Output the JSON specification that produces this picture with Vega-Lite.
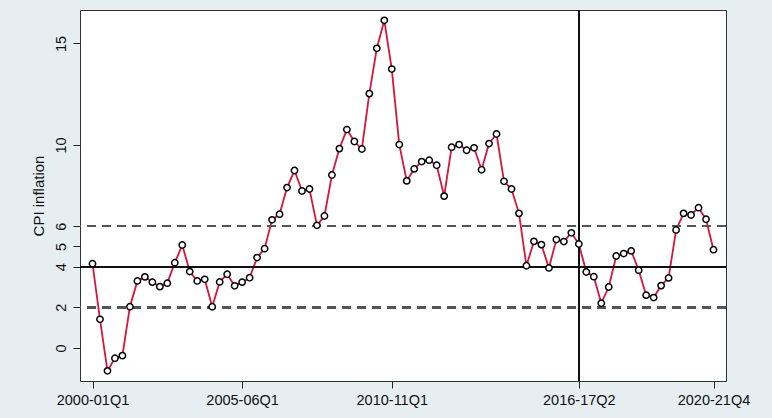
{
  "$schema": "https://vega.github.io/schema/vega-lite/v6.json",
  "width": 646,
  "height": 371,
  "autosize": {"type": "none"},
  "padding": {"left": 80, "top": 10, "right": 46, "bottom": 37},
  "background": "#e7eef1",
  "config": {
    "view": {"fill": "white", "stroke": "#333333", "strokeWidth": 1},
    "axis": {
      "labelFont": "Liberation Sans",
      "labelFontSize": 14.5,
      "labelColor": "#111111",
      "titleFont": "Liberation Sans",
      "titleFontSize": 15,
      "titleFontWeight": "normal",
      "titleColor": "#111111",
      "tickColor": "#222222",
      "domainColor": "#222222",
      "tickSize": 7,
      "grid": false
    }
  },
  "data": {
    "values": [
      {"quarter": "2000-01Q1", "cpi": 4.15},
      {"quarter": "2000-01Q2", "cpi": 1.41},
      {"quarter": "2000-01Q3", "cpi": -1.13},
      {"quarter": "2000-01Q4", "cpi": -0.51},
      {"quarter": "2001-02Q1", "cpi": -0.38},
      {"quarter": "2001-02Q2", "cpi": 2.03},
      {"quarter": "2001-02Q3", "cpi": 3.30},
      {"quarter": "2001-02Q4", "cpi": 3.50},
      {"quarter": "2002-03Q1", "cpi": 3.24},
      {"quarter": "2002-03Q2", "cpi": 3.02},
      {"quarter": "2002-03Q3", "cpi": 3.19},
      {"quarter": "2002-03Q4", "cpi": 4.20},
      {"quarter": "2003-04Q1", "cpi": 5.07},
      {"quarter": "2003-04Q2", "cpi": 3.76},
      {"quarter": "2003-04Q3", "cpi": 3.30},
      {"quarter": "2003-04Q4", "cpi": 3.38},
      {"quarter": "2004-05Q1", "cpi": 2.03},
      {"quarter": "2004-05Q2", "cpi": 3.25},
      {"quarter": "2004-05Q3", "cpi": 3.63},
      {"quarter": "2004-05Q4", "cpi": 3.06},
      {"quarter": "2005-06Q1", "cpi": 3.24},
      {"quarter": "2005-06Q2", "cpi": 3.46},
      {"quarter": "2005-06Q3", "cpi": 4.45},
      {"quarter": "2005-06Q4", "cpi": 4.89},
      {"quarter": "2006-07Q1", "cpi": 6.31},
      {"quarter": "2006-07Q2", "cpi": 6.59},
      {"quarter": "2006-07Q3", "cpi": 7.90},
      {"quarter": "2006-07Q4", "cpi": 8.74},
      {"quarter": "2007-08Q1", "cpi": 7.73},
      {"quarter": "2007-08Q2", "cpi": 7.83},
      {"quarter": "2007-08Q3", "cpi": 6.04},
      {"quarter": "2007-08Q4", "cpi": 6.50},
      {"quarter": "2008-09Q1", "cpi": 8.52},
      {"quarter": "2008-09Q2", "cpi": 9.82},
      {"quarter": "2008-09Q3", "cpi": 10.76},
      {"quarter": "2008-09Q4", "cpi": 10.17},
      {"quarter": "2009-10Q1", "cpi": 9.80},
      {"quarter": "2009-10Q2", "cpi": 12.53},
      {"quarter": "2009-10Q3", "cpi": 14.76},
      {"quarter": "2009-10Q4", "cpi": 16.14},
      {"quarter": "2010-11Q1", "cpi": 13.74},
      {"quarter": "2010-11Q2", "cpi": 10.02},
      {"quarter": "2010-11Q3", "cpi": 8.23},
      {"quarter": "2010-11Q4", "cpi": 8.82},
      {"quarter": "2011-12Q1", "cpi": 9.18},
      {"quarter": "2011-12Q2", "cpi": 9.25},
      {"quarter": "2011-12Q3", "cpi": 9.00},
      {"quarter": "2011-12Q4", "cpi": 7.48},
      {"quarter": "2012-13Q1", "cpi": 9.89},
      {"quarter": "2012-13Q2", "cpi": 10.02},
      {"quarter": "2012-13Q3", "cpi": 9.74},
      {"quarter": "2012-13Q4", "cpi": 9.86},
      {"quarter": "2013-14Q1", "cpi": 8.78},
      {"quarter": "2013-14Q2", "cpi": 10.07},
      {"quarter": "2013-14Q3", "cpi": 10.54},
      {"quarter": "2013-14Q4", "cpi": 8.21},
      {"quarter": "2014-15Q1", "cpi": 7.83},
      {"quarter": "2014-15Q2", "cpi": 6.63},
      {"quarter": "2014-15Q3", "cpi": 4.05},
      {"quarter": "2014-15Q4", "cpi": 5.25},
      {"quarter": "2015-16Q1", "cpi": 5.09},
      {"quarter": "2015-16Q2", "cpi": 3.94},
      {"quarter": "2015-16Q3", "cpi": 5.34},
      {"quarter": "2015-16Q4", "cpi": 5.24},
      {"quarter": "2016-17Q1", "cpi": 5.67},
      {"quarter": "2016-17Q2", "cpi": 5.12},
      {"quarter": "2016-17Q3", "cpi": 3.74},
      {"quarter": "2016-17Q4", "cpi": 3.51},
      {"quarter": "2017-18Q1", "cpi": 2.20},
      {"quarter": "2017-18Q2", "cpi": 3.00},
      {"quarter": "2017-18Q3", "cpi": 4.53},
      {"quarter": "2017-18Q4", "cpi": 4.65},
      {"quarter": "2018-19Q1", "cpi": 4.78},
      {"quarter": "2018-19Q2", "cpi": 3.83},
      {"quarter": "2018-19Q3", "cpi": 2.60},
      {"quarter": "2018-19Q4", "cpi": 2.48},
      {"quarter": "2019-20Q1", "cpi": 3.07},
      {"quarter": "2019-20Q2", "cpi": 3.45},
      {"quarter": "2019-20Q3", "cpi": 5.81},
      {"quarter": "2019-20Q4", "cpi": 6.63},
      {"quarter": "2020-21Q1", "cpi": 6.55},
      {"quarter": "2020-21Q2", "cpi": 6.91},
      {"quarter": "2020-21Q3", "cpi": 6.34},
      {"quarter": "2020-21Q4", "cpi": 4.84}
    ]
  },
  "encoding": {
    "x": {
      "field": "quarter",
      "type": "ordinal",
      "sort": null,
      "scale": {"type": "point", "padding": 0, "range": [12.5, 633.5]},
      "axis": {
        "values": ["2000-01Q1", "2005-06Q1", "2010-11Q1", "2016-17Q2", "2020-21Q4"],
        "labelAngle": 0,
        "title": null,
        "labelPadding": 5,
        "domain": false
      }
    },
    "y": {
      "field": "cpi",
      "type": "quantitative",
      "scale": {"domain": [-1.63, 16.65], "nice": false, "zero": false},
      "axis": {
        "values": [0, 2, 4, 5, 6, 10, 15],
        "labelAngle": 270,
        "title": "CPI inflation",
        "labelPadding": 5,
        "titlePadding": 7,
        "domain": false
      }
    }
  },
  "layer": [
    {
      "mark": {"type": "line", "color": "#d7153c", "strokeWidth": 1.8}
    },
    {
      "mark": {"type": "rule", "color": "#555555", "strokeWidth": 1.6, "strokeDash": [9, 6]},
      "encoding": {"y": {"datum": 6}, "x": null}
    },
    {
      "mark": {"type": "rule", "color": "#555555", "strokeWidth": 1.6, "strokeDash": [9, 6]},
      "encoding": {"y": {"datum": 2}, "x": null}
    },
    {
      "mark": {"type": "rule", "color": "#111111", "strokeWidth": 1.2},
      "encoding": {"y": {"datum": 4}, "x": null}
    },
    {
      "mark": {"type": "rule", "color": "#111111", "strokeWidth": 1.2},
      "encoding": {"x": {"datum": "2016-17Q2"}, "y": null}
    },
    {
      "mark": {"type": "point", "shape": "circle", "filled": true, "fill": "white", "stroke": "black", "strokeWidth": 1.5, "size": 40, "opacity": 1}
    }
  ]
}
